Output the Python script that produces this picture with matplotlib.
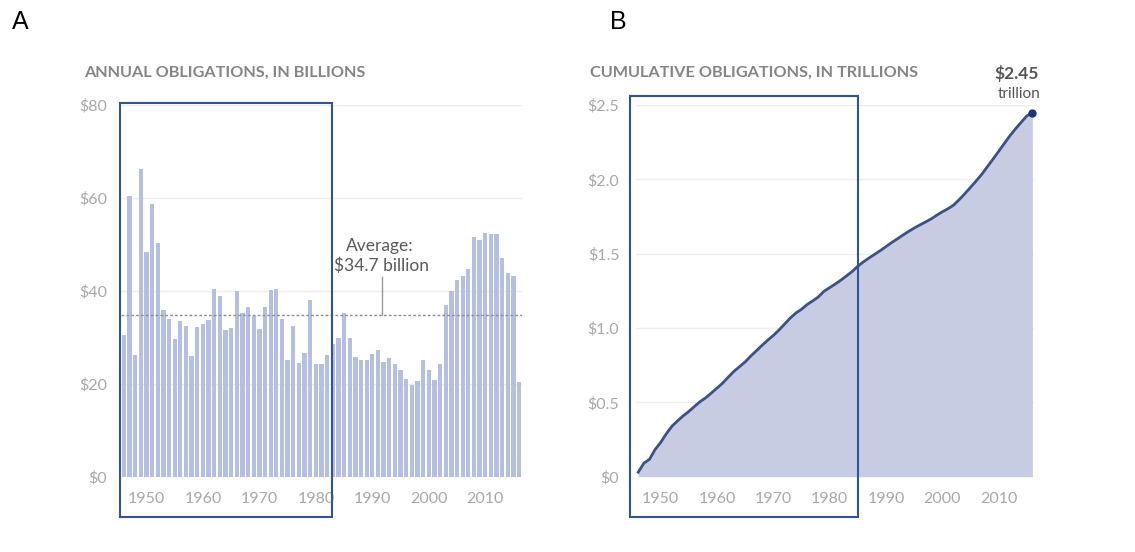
import numpy as np
import matplotlib.pyplot as plt
from matplotlib.patches import Rectangle

plt.rcParams['font.family'] = ['Lato', 'DejaVu Sans']

# Annual obligations, billions of dollars, 1946-2016
years = np.arange(1946, 2017)
annual = [
    30.5, 60.4, 26.2, 66.1, 48.3, 58.5, 50.2, 35.9, 33.9, 29.5,   # 1946-1955
    33.5, 32.3, 26.0, 32.1, 32.8, 33.7, 40.3, 38.8, 31.5, 32.0,   # 1956-1965
    39.8, 35.2, 36.5, 34.5, 31.8, 36.4, 40.2, 40.3, 33.8, 25.1,   # 1966-1975
    32.3, 24.5, 26.6, 38.0, 24.3, 24.2, 26.2, 28.6, 29.7, 35.1,   # 1976-1985
    29.8, 25.7, 25.0, 25.0, 26.4, 27.3, 24.6, 25.5, 24.3, 22.8,   # 1986-1995
    21.0, 19.7, 20.6, 25.1, 23.0, 20.8, 24.3, 36.8, 39.9, 42.2,   # 1996-2005
    43.2, 44.7, 51.5, 50.8, 52.4, 52.2, 52.2, 47.0, 43.8, 43.2,   # 2006-2015
    20.3,                                                         # 2016
]
average = 34.7
cumulative = np.cumsum(annual) / 1000.0   # trillions

a_ticks = [0, 20, 40, 60, 80]
a_labels = ['$0', '$20', '$40', '$60', '$80']
b_ticks = [0, 0.5, 1.0, 1.5, 2.0, 2.5]
b_labels = ['$0', '$0.5', '$1.0', '$1.5', '$2.0', '$2.5']
decades = [1950, 1960, 1970, 1980, 1990, 2000, 2010]

W, H = 1135, 552
fig = plt.figure(figsize=(W / 100, H / 100), dpi=100, facecolor='white')


def px_box(x0, y0, x1, y1):
    # pixel corners (top-left origin) -> figure fraction rect
    return [x0 / W, 1 - y1 / H, (x1 - x0) / W, (y1 - y0) / H]


bar_color = '#b5bfe2'
fill_color = '#c7cce3'
line_color = '#3a5189'
grid_color = '#eeeeee'
tick_color = '#a8a8a8'
title_color = '#858585'
box_color = '#2f5597'


def style(ax):
    for s in ax.spines.values():
        s.set_visible(False)
    ax.tick_params(length=0, labelsize=11.5, labelcolor=tick_color)
    ax.set_axisbelow(True)


# ---- A: annual bars ----
axA = fig.add_axes(px_box(121, 104.5, 522, 476.5))
style(axA)
axA.bar(years, annual, width=0.76, color=bar_color, zorder=2)
axA.axhline(average, color='#8e8e8e', lw=1.0, ls=(0, (2, 1.5)), zorder=3)
axA.set_xlim(1945.5, 2016.5)
axA.set_ylim(0, 80)
axA.set_yticks(a_ticks)
axA.set_yticklabels(a_labels)
axA.yaxis.grid(True, color=grid_color, lw=1)
axA.set_xticks(decades)
axA.tick_params(axis='y', pad=10)
axA.tick_params(axis='x', pad=11)
axA.plot([1991.8, 1991.8], [average, 43.0], color='#9a9a9a', lw=1, zorder=3)
axA.text(1991.4, 49.6, 'Average:', ha='center', va='center',
         fontsize=12.5, color='#5a5a5a')
axA.text(1991.6, 45.4, '$34.7 billion', ha='center', va='center',
         fontsize=12.5, color='#5a5a5a')

# ---- B: cumulative line ----
axB = fig.add_axes(px_box(636, 105, 1033.5, 476.7))
style(axB)
axB.fill_between(years, cumulative, 0, color=fill_color, lw=0, zorder=2)
axB.plot(years, cumulative, color=line_color, lw=2, zorder=3)
axB.plot(years[-1], cumulative[-1], 'o', color='#1f3570', ms=5, zorder=4,
         clip_on=False)
axB.set_xlim(1945.6, 2016.2)
axB.set_ylim(0, 2.5)
axB.set_yticks(b_ticks)
axB.set_yticklabels(b_labels)
axB.yaxis.grid(True, color=grid_color, lw=1)
axB.set_xticks(decades)
axB.tick_params(axis='y', pad=12)
axB.tick_params(axis='x', pad=11)

# ---- headings ----
fig.text(84 / W, 1 - 73 / H, 'ANNUAL OBLIGATIONS, IN BILLIONS', ha='left',
         va='center', fontsize=11.7, fontweight='bold', color=title_color)
fig.text(590 / W, 1 - 73 / H, 'CUMULATIVE OBLIGATIONS, IN TRILLIONS',
         ha='left', va='center', fontsize=11.7, fontweight='bold',
         color=title_color)
fig.text(1039 / W, 1 - 73 / H, f'${cumulative[-1]:.2f}', ha='right',
         va='center', fontsize=12.5, fontweight='bold', color='#555555')
fig.text(1040 / W, 1 - 94 / H, 'trillion', ha='right', va='center',
         fontsize=11, color='#555555')

fig.text(12 / W, 1 - 22 / H, 'A', ha='left', va='center', fontsize=18,
         family='Liberation Sans', color='black')
fig.text(610 / W, 1 - 22 / H, 'B', ha='left', va='center', fontsize=18,
         family='Liberation Sans', color='black')

# highlight frames
for x0, y0, x1, y1 in [(120, 103, 332, 517), (630, 96, 858, 517)]:
    fig.add_artist(Rectangle((x0 / W, 1 - y1 / H), (x1 - x0) / W,
                             (y1 - y0) / H, transform=fig.transFigure,
                             fill=False, edgecolor=box_color, lw=1.5,
                             zorder=10))

fig.savefig('out.png', dpi=100, facecolor='white')
